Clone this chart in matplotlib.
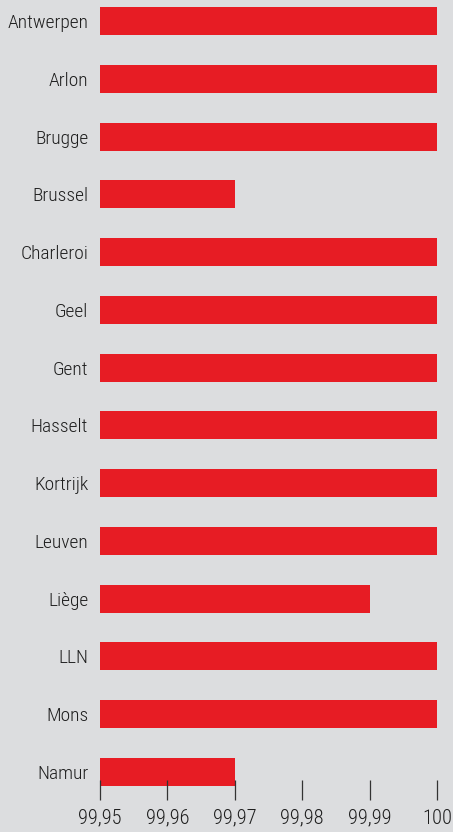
import matplotlib.pyplot as plt

cities = ["Antwerpen", "Arlon", "Brugge", "Brussel", "Charleroi", "Geel", "Gent",
          "Hasselt", "Kortrijk", "Leuven", "Liège", "LLN", "Mons", "Namur"]
values = [100, 100, 100, 99.97, 100, 100, 100,
          100, 100, 100, 99.99, 100, 100, 99.97]
tick_values = [99.95, 99.96, 99.97, 99.98, 99.99, 100]
tick_labels = ["99,95", "99,96", "99,97", "99,98", "99,99", "100"]

BG = "#dcdddf"
RED = "#e71c24"
INK = "#1e1e1e"

plt.rcParams["font.family"] = ["Roboto Condensed", "Archivo Narrow", "DejaVu Sans"]
plt.rcParams["font.weight"] = "light"

fig = plt.figure(figsize=(4.53, 8.32), dpi=100, facecolor=BG)
ax = fig.add_axes([100 / 453, 42 / 832, 337 / 453, 790 / 832])
ax.set_facecolor(BG)

# bars start at the left edge of the axis, not at zero
x0 = tick_values[0]
pos = list(range(len(cities)))
ax.barh(pos, [v - x0 for v in values], left=x0, height=0.485, color=RED)

ax.set_xlim(x0, tick_values[-1])
ax.set_ylim(13.311, -0.3635)
ax.set_yticks(pos)
ax.set_yticklabels(cities, fontsize=14, color=INK)
ax.set_xticks(tick_values)
ax.set_xticklabels(tick_labels, fontsize=14.8, color=INK)
ax.tick_params(axis="y", length=0, pad=8.5)
ax.tick_params(axis="x", direction="inout", length=13.7, width=0.9,
               color="#333333", pad=6.5)
for s in ax.spines.values():
    s.set_visible(False)

fig.savefig("out.png", dpi=100, facecolor=BG)
